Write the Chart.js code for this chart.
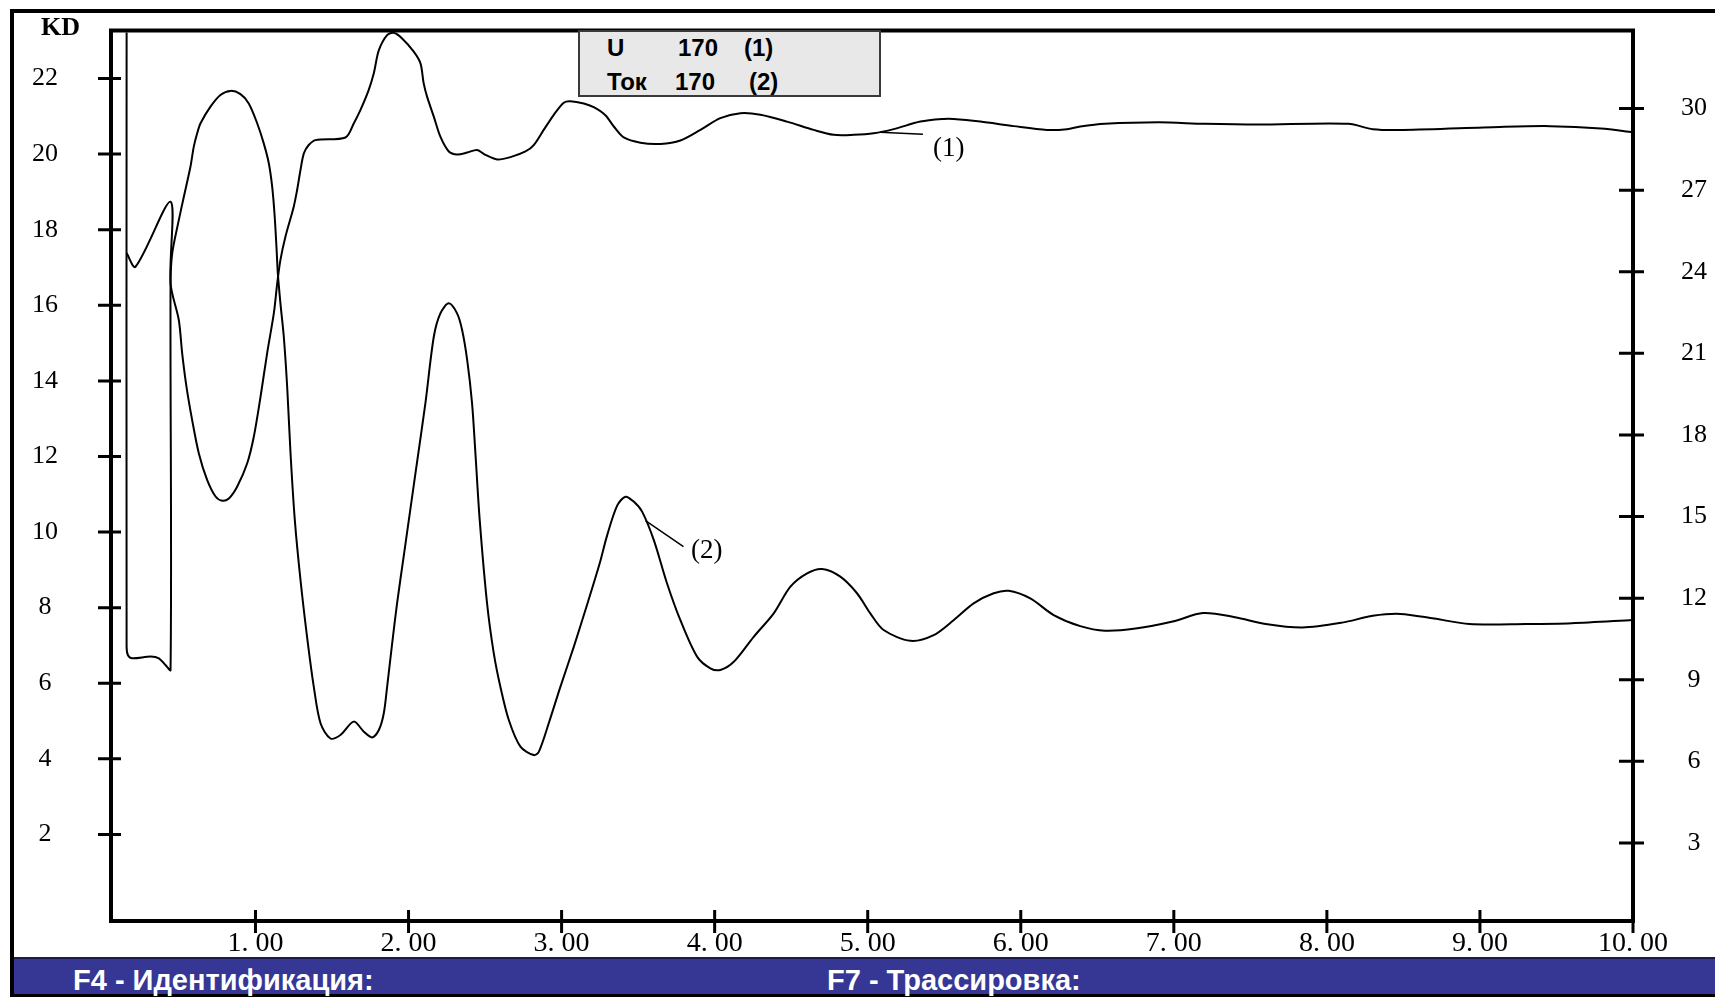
<!DOCTYPE html>
<html>
<head>
<meta charset="utf-8">
<title>U / Ток</title>
<script src="https://cdn.jsdelivr.net/npm/chart.js@4.4.1/dist/chart.umd.min.js"></script>
<style>
  body { margin: 0; background: #fff; }
  #wrap { position: relative; width: 1715px; height: 997px; overflow: hidden; background: #fff; }
  #chart { position: absolute; left: 0; top: 0; }
  .abs { position: absolute; white-space: pre; line-height: 1; }
  .serif { font-family: "Liberation Serif", "Times New Roman", serif; color: #000; }
  .sans { font-family: "Liberation Sans", Arial, sans-serif; font-weight: bold; }
  #legendBox { position: absolute; left: 578px; top: 30px; width: 303px; height: 67px;
    background: #e8e8e8; border: 2px solid #3a3a3a; box-sizing: border-box; }
  #bar { position: absolute; left: 14px; top: 957px; width: 1701px; height: 40px; box-sizing: border-box;
    background: #363694; border-top: 2px solid #1c1c48; border-bottom: 3px solid #000; }
</style>
</head>
<body>
<div id="wrap">
  <canvas id="chart" width="1715" height="997"></canvas>

  <div class="abs" style="left:10px;top:9px;width:1705px;height:4px;background:#000"></div>
  <div class="abs" style="left:10px;top:9px;width:4px;height:988px;background:#000"></div>

  <div class="abs serif" style="left:41px;top:14px;font-size:26px;font-weight:bold">KD</div>

  <div id="legendBox"></div>
  <div class="abs sans" style="left:607px;top:36px;font-size:24px">U</div>
  <div class="abs sans" style="left:678px;top:36px;font-size:24px">170</div>
  <div class="abs sans" style="left:744px;top:36px;font-size:24px">(1)</div>
  <div class="abs sans" style="left:607px;top:70px;font-size:24px">Ток</div>
  <div class="abs sans" style="left:675px;top:70px;font-size:24px">170</div>
  <div class="abs sans" style="left:749px;top:70px;font-size:24px">(2)</div>

  <div class="abs serif" style="left:933px;top:134px;font-size:27px">(1)</div>
  <div class="abs serif" style="left:691px;top:536px;font-size:27px">(2)</div>

  <div id="bar"></div>
  <div class="abs sans" style="left:73px;top:966px;font-size:29px;color:#fff">F4 - Идентификация:</div>
  <div class="abs sans" style="left:827px;top:966px;font-size:29px;color:#fff">F7 - Трассировка:</div>
</div>

<script>
// curve (1): U, left axis
const uTime = [
  0.158, 0.216, 0.445, 0.445, 0.499, 0.521, 0.549, 0.586, 0.630, 0.684,
  0.739, 0.782, 0.826, 0.880, 0.946, 0.989, 1.033, 1.076, 1.120, 1.142,
  1.163, 1.196, 1.250, 1.272, 1.294, 1.316, 1.348, 1.392, 1.588, 1.642,
  1.686, 1.740, 1.773, 1.806, 1.860, 1.903, 1.958, 2.034, 2.078, 2.099,
  2.121, 2.165, 2.208, 2.263, 2.317, 2.383, 2.448, 2.502, 2.579, 2.666,
  2.764, 2.818, 2.883, 2.949, 3.014, 3.057, 3.145, 3.210, 3.286, 3.341,
  3.406, 3.515, 3.646, 3.776, 3.907, 4.037, 4.168, 4.299, 4.473, 4.647,
  4.778, 4.908, 5.039, 5.170, 5.344, 5.496, 5.561, 5.736, 5.953, 6.171,
  6.302, 6.389, 6.55, 6.9, 7.2, 7.55, 8.14, 8.3, 8.5, 9.13,
  9.46, 9.79, 10.0
];
const uValue = [
  17.38, 17.02, 18.74, 16.58, 15.61, 14.73, 13.85, 12.97, 12.08, 11.38,
  10.94, 10.83, 10.89, 11.20, 11.82, 12.52, 13.58, 14.73, 15.79, 16.58,
  17.20, 17.82, 18.61, 19.05, 19.58, 20.02, 20.24, 20.37, 20.44, 20.81,
  21.17, 21.70, 22.14, 22.75, 23.15, 23.21, 23.06, 22.71, 22.40, 21.87,
  21.52, 20.99, 20.46, 20.07, 19.99, 20.04, 20.11, 19.98, 19.86, 19.92,
  20.07, 20.24, 20.64, 21.04, 21.36, 21.40, 21.34, 21.24, 21.03, 20.73,
  20.44, 20.30, 20.27, 20.36, 20.64, 20.95, 21.08, 21.04, 20.86, 20.64,
  20.51, 20.51, 20.55, 20.66, 20.86, 20.93, 20.93, 20.86, 20.74, 20.64,
  20.66, 20.73, 20.80, 20.84, 20.80, 20.78, 20.80, 20.66, 20.64, 20.72,
  20.74, 20.68, 20.58
];

// curve (2): Ток, right axis
const iTime = [
  0.158, 0.158, 0.166, 0.194, 0.314, 0.369, 0.412, 0.445, 0.445, 0.456,
  0.499, 0.532, 0.575, 0.597, 0.619, 0.641, 0.706, 0.771, 0.837, 0.902,
  0.956, 1.011, 1.054, 1.087, 1.109, 1.124, 1.137, 1.146, 1.163, 1.185,
  1.207, 1.229, 1.257, 1.294, 1.337, 1.381, 1.425, 1.490, 1.555, 1.642,
  1.708, 1.762, 1.806, 1.838, 1.860, 1.893, 1.925, 1.969, 2.012, 2.056,
  2.110, 2.165, 2.208, 2.263, 2.317, 2.350, 2.383, 2.415, 2.437, 2.465,
  2.513, 2.557, 2.600, 2.655, 2.731, 2.818, 2.851, 2.916, 2.992, 3.079,
  3.166, 3.250, 3.297, 3.363, 3.417, 3.471, 3.526, 3.602, 3.689, 3.776,
  3.885, 3.972, 4.037, 4.125, 4.255, 4.386, 4.495, 4.604, 4.702, 4.821,
  4.930, 5.017, 5.104, 5.279, 5.431, 5.561, 5.692, 5.823, 5.921, 6.062,
  6.215, 6.389, 6.55, 6.75, 7.0, 7.19, 7.4, 7.6, 7.84, 8.1,
  8.3, 8.48, 8.7, 8.93, 9.3, 9.6, 10.0
];
const iValue = [
  32.8, 10.21, 9.91, 9.79, 9.85, 9.79, 9.54, 9.36, 23.57, 24.68,
  25.90, 26.76, 27.86, 28.60, 29.09, 29.46, 30.07, 30.50, 30.65, 30.53,
  30.19, 29.46, 28.72, 27.99, 27.13, 26.15, 24.92, 23.94, 22.84, 21.61,
  19.77, 17.32, 14.87, 12.67, 10.58, 8.74, 7.40, 6.84, 6.97, 7.46,
  7.09, 6.88, 7.15, 7.76, 8.74, 10.34, 11.81, 13.56, 15.27, 17.02,
  19.16, 21.61, 22.47, 22.84, 22.47, 21.86, 20.76, 19.16, 17.32, 14.87,
  11.81, 9.97, 8.74, 7.52, 6.54, 6.23, 6.35, 7.40, 8.74, 10.20,
  11.75, 13.30, 14.30, 15.40, 15.73, 15.55, 15.18, 14.14, 12.54, 11.19,
  9.85, 9.42, 9.36, 9.66, 10.58, 11.44, 12.42, 12.91, 13.07, 12.79,
  12.18, 11.44, 10.83, 10.43, 10.64, 11.19, 11.81, 12.18, 12.27, 11.99,
  11.38, 10.97, 10.80, 10.88, 11.15, 11.45, 11.30, 11.05, 10.92, 11.10,
  11.35, 11.42, 11.25, 11.05, 11.05, 11.08, 11.20
];

const xTicks = [1, 2, 3, 4, 5, 6, 7, 8, 9, 10];
const xTickLabels = ['1. 00', '2. 00', '3. 00', '4. 00', '5. 00', '6. 00', '7. 00', '8. 00', '9. 00', '10. 00'];
const leftTicks = [2, 4, 6, 8, 10, 12, 14, 16, 18, 20, 22];
const rightTicks = [3, 6, 9, 12, 15, 18, 21, 24, 27, 30];

// where the "(1)" / "(2)" leader lines touch the curves
const leaderU = { x: 5.08, y: 20.58 };
const leaderI = { x: 3.548, y: 14.85 };

const toPoints = (t, v) => t.map((x, i) => ({ x: x, y: v[i] }));
const serif = '"Liberation Serif", "Times New Roman", serif';

// big tick padding would otherwise push the plot top down
function fixVertical(width) {
  return s => { s.width = width; s.paddingTop = 0; s.paddingBottom = 0; };
}

const axisFrame = {
  id: 'axisFrame',
  afterDraw(chart) {
    const { ctx, chartArea: a, scales } = chart;
    ctx.save();
    ctx.strokeStyle = '#000';
    ctx.lineWidth = 4;
    ctx.strokeRect(a.left, a.top, a.right - a.left, a.bottom - a.top);

    ctx.lineWidth = 3;
    ctx.beginPath();
    scales.y.ticks.forEach(t => {
      const p = scales.y.getPixelForValue(t.value);
      ctx.moveTo(a.left - 13, p); ctx.lineTo(a.left + 10, p);
    });
    scales.y1.ticks.forEach(t => {
      const p = scales.y1.getPixelForValue(t.value);
      ctx.moveTo(a.right - 14, p); ctx.lineTo(a.right + 11, p);
    });
    scales.x.ticks.forEach(t => {
      const p = scales.x.getPixelForValue(t.value);
      ctx.moveTo(p, a.bottom - 11); ctx.lineTo(p, a.bottom + 12);
    });
    ctx.stroke();

    // leader lines to the curve labels
    ctx.lineWidth = 1.5;
    ctx.beginPath();
    let px = scales.x.getPixelForValue(leaderU.x), py = scales.y.getPixelForValue(leaderU.y);
    ctx.moveTo(px, py); ctx.lineTo(px + 43, py + 2);
    px = scales.x.getPixelForValue(leaderI.x); py = scales.y1.getPixelForValue(leaderI.y);
    ctx.moveTo(px, py); ctx.lineTo(px + 38, py + 26);
    ctx.stroke();
    ctx.restore();
  }
};

new Chart(document.getElementById('chart'), {
  type: 'line',
  data: {
    datasets: [
      {
        label: 'U 170 (1)',
        data: toPoints(uTime, uValue),
        yAxisID: 'y',
        borderColor: '#000',
        borderWidth: 2,
        pointRadius: 0,
        tension: 0.3,
        fill: false
      },
      {
        label: 'Ток 170 (2)',
        data: toPoints(iTime, iValue),
        yAxisID: 'y1',
        borderColor: '#000',
        borderWidth: 2,
        pointRadius: 0,
        tension: 0.3,
        fill: false
      }
    ]
  },
  options: {
    responsive: false,
    animation: false,
    devicePixelRatio: 1,
    events: [],
    layout: { padding: { top: 30.5, left: 0, right: 0, bottom: 0 } },
    plugins: { legend: { display: false }, tooltip: { enabled: false } },
    scales: {
      x: {
        type: 'linear',
        min: 0.056,
        max: 10,
        afterBuildTicks: s => { s.ticks = xTicks.map(v => ({ value: v })); },
        afterFit: s => { s.height = 76; },
        grid: { display: false },
        border: { display: false },
        ticks: {
          autoSkip: false,
          maxRotation: 0,
          padding: -2,
          color: '#000',
          font: { family: serif, size: 28 },
          callback: (v, i) => xTickLabels[i]
        }
      },
      y: {
        position: 'left',
        min: -0.29,
        max: 23.27,
        afterBuildTicks: s => { s.ticks = leftTicks.map(v => ({ value: v })); },
        afterFit: fixVertical(111),
        grid: { display: false },
        border: { display: false },
        ticks: {
          crossAlign: 'center',
          padding: 45,
          color: '#000',
          font: { family: serif, size: 26 }
        }
      },
      y1: {
        position: 'right',
        min: 0.13,
        max: 32.87,
        afterBuildTicks: s => { s.ticks = rightTicks.map(v => ({ value: v })); },
        afterFit: fixVertical(82),
        grid: { display: false },
        border: { display: false },
        ticks: {
          crossAlign: 'center',
          padding: 40,
          color: '#000',
          font: { family: serif, size: 26 }
        }
      }
    }
  },
  plugins: [axisFrame]
});
</script>
</body>
</html>
